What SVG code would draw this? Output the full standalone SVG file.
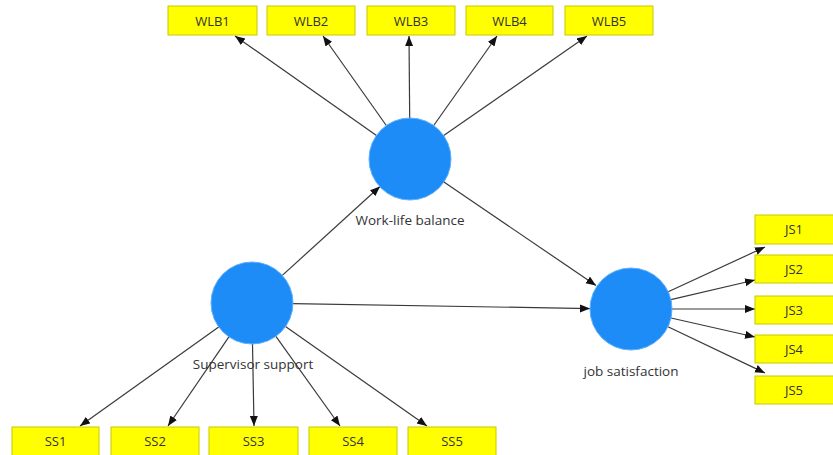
<svg xmlns="http://www.w3.org/2000/svg" width="833" height="455" viewBox="0 0 833 455">
<style>
.box{fill:#ffff00;stroke:#c8c800;stroke-width:1}
.lv{fill:#1e8cf7;stroke:#5fb0ff;stroke-width:1}
.bt{font-family:"Open Sans","DejaVu Sans",sans-serif;font-size:13px;fill:#333;text-anchor:middle}
.lt{font-family:"Open Sans","DejaVu Sans",sans-serif;font-size:13.5px;fill:#333;text-anchor:middle}
.c line{stroke:#3a3a3a;stroke-width:1.2;marker-end:url(#ah)}
</style>
<defs>
<marker id="ah" markerUnits="userSpaceOnUse" markerWidth="11" markerHeight="9" refX="10" refY="4" orient="auto">
<path d="M0,0 L10,4 L0,8 z" fill="#111"/>
</marker>
</defs>
<rect width="833" height="455" fill="#ffffff"/>
<g id="connectors" class="c">
<line x1="376.5" y1="135.4" x2="235" y2="36"/>
<line x1="386.3" y1="125.5" x2="323" y2="36"/>
<line x1="409.7" y1="118" x2="409" y2="36"/>
<line x1="433.7" y1="125.5" x2="497" y2="36"/>
<line x1="443.7" y1="135.6" x2="587" y2="36"/>
<line x1="218.7" y1="326.9" x2="80" y2="426"/>
<line x1="228.9" y1="336.9" x2="168" y2="426"/>
<line x1="252.5" y1="344" x2="254" y2="426"/>
<line x1="275.9" y1="336.3" x2="340" y2="426"/>
<line x1="285.5" y1="326.6" x2="427" y2="426"/>
<line x1="668.2" y1="291.8" x2="765" y2="247"/>
<line x1="670.9" y1="299.7" x2="755" y2="280"/>
<line x1="672" y1="309" x2="755" y2="309"/>
<line x1="671" y1="318" x2="755" y2="337"/>
<line x1="668" y1="326.7" x2="765" y2="373"/>
<line x1="282.3" y1="275.4" x2="380" y2="186.5"/>
<line x1="293" y1="303.6" x2="590" y2="308.6"/>
<line x1="443.9" y1="182" x2="596" y2="285.5"/>
</g>
<g id="WLB1"><rect class="box" x="168" y="6" width="89" height="29"/><text class="bt" x="212.5" y="26">WLB1</text></g>
<g id="WLB2"><rect class="box" x="267" y="6" width="88" height="29"/><text class="bt" x="311" y="26">WLB2</text></g>
<g id="WLB3"><rect class="box" x="367" y="6" width="88" height="29"/><text class="bt" x="411" y="26">WLB3</text></g>
<g id="WLB4"><rect class="box" x="466" y="6" width="87" height="29"/><text class="bt" x="509.5" y="26">WLB4</text></g>
<g id="WLB5"><rect class="box" x="565" y="6" width="88" height="29"/><text class="bt" x="609" y="26">WLB5</text></g>
<g id="SS1"><rect class="box" x="12" y="427" width="87" height="30"/><text class="bt" x="55.5" y="446">SS1</text></g>
<g id="SS2"><rect class="box" x="111" y="427" width="88" height="30"/><text class="bt" x="155" y="446">SS2</text></g>
<g id="SS3"><rect class="box" x="209" y="427" width="89" height="30"/><text class="bt" x="253.5" y="446">SS3</text></g>
<g id="SS4"><rect class="box" x="309" y="427" width="88" height="30"/><text class="bt" x="353" y="446">SS4</text></g>
<g id="SS5"><rect class="box" x="408" y="427" width="88" height="30"/><text class="bt" x="452" y="446">SS5</text></g>
<g id="JS1"><rect class="box" x="755" y="215" width="88" height="29"/><text class="bt" x="794" y="234">JS1</text></g>
<g id="JS2"><rect class="box" x="755" y="255" width="88" height="28"/><text class="bt" x="794" y="274">JS2</text></g>
<g id="JS3"><rect class="box" x="755" y="296" width="88" height="28"/><text class="bt" x="794" y="315">JS3</text></g>
<g id="JS4"><rect class="box" x="755" y="335" width="88" height="28"/><text class="bt" x="794" y="354">JS4</text></g>
<g id="JS5"><rect class="box" x="755" y="376" width="88" height="28"/><text class="bt" x="794" y="395">JS5</text></g>
<g id="WLB"><circle class="lv" cx="410" cy="159" r="41"/><text class="lt" x="410" y="225">Work-life balance</text></g>
<g id="SS"><circle class="lv" cx="252" cy="303" r="41"/><text class="lt" x="253" y="369">Supervisor support</text></g>
<g id="JS"><circle class="lv" cx="631" cy="309" r="41"/><text class="lt" x="631" y="376">job satisfaction</text></g>
</svg>
